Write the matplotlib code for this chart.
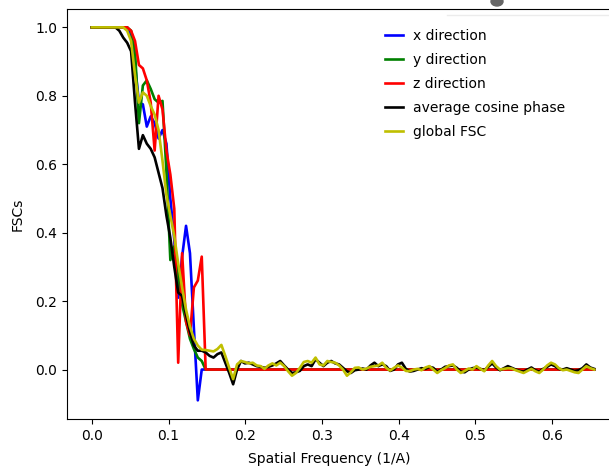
import numpy as np
import matplotlib
matplotlib.use("Agg")
import matplotlib.pyplot as plt
from matplotlib.patches import Ellipse
from matplotlib.lines import Line2D

# ---- data ----
black_head = [1.0] * 7 + [0.99, 0.97, 0.955, 0.93, 0.78, 0.645, 0.685, 0.66, 0.645, 0.62,
                          0.575, 0.53, 0.45, 0.385, 0.30, 0.225, 0.215, 0.16, 0.11, 0.07,
                          0.055, 0.055, 0.05, 0.04, 0.035, 0.045, 0.05, 0.02, -0.01, -0.043]
black_tail = [0.0, 0.025, 0.018, 0.02, 0.015, 0.01, 0.008, 0.005, 0.008, 0.012,
              0.018, 0.025, 0.012, 0.0, -0.01, -0.008, -0.004, 0.01, 0.015, 0.01,
              0.03, 0.02, 0.01, 0.02, 0.025, 0.018, 0.015, 0.005, -0.005, -0.01,
              -0.002, 0.0, 0.003, 0.0, 0.012, 0.02, 0.01, 0.015, 0.01, -0.004,
              0.0, 0.015, 0.02, 0.002, -0.006, -0.004, 0.0, 0.004, 0.002, 0.008,
              0.005, -0.006, 0.0, 0.008, 0.01, 0.012, 0.005, -0.006, -0.008, 0.0,
              0.004, 0.006, 0.002, -0.002, 0.008, 0.018, 0.006, -0.002, 0.004, 0.01,
              0.005, 0.0, -0.004, -0.006, 0.0, 0.006, -0.002, -0.006, 0.002, 0.008,
              0.015, 0.01, 0.002, 0.0, 0.004, 0.0, -0.004, -0.002, 0.004, 0.015,
              0.006, 0.002]
avg_cos_phase = black_head + black_tail

yellow_head = [1.0] * 9 + [0.99, 0.96, 0.86, 0.78, 0.81, 0.80, 0.77, 0.745, 0.70, 0.61,
                           0.51, 0.45, 0.39, 0.31, 0.24, 0.175, 0.125, 0.09, 0.07, 0.058,
                           0.057, 0.055, 0.053, 0.06, 0.072, 0.04, 0.005, -0.028]
yellow_tail = [0.015, 0.025, 0.022, 0.018, 0.02, 0.012, 0.01, 0.002, 0.012, 0.018,
               0.012, 0.02, 0.01, -0.005, -0.018, -0.01, 0.005, 0.022, 0.025, 0.02,
               0.035, 0.015, 0.012, 0.025, 0.022, 0.02, 0.012, 0.0, -0.018, -0.008,
               0.005, 0.006, 0.0, 0.003, 0.008, 0.01, 0.012, 0.02, 0.005, -0.003,
               0.005, 0.012, 0.006, -0.004, -0.005, 0.0, 0.002, -0.002, 0.006, 0.01,
               0.0, -0.01, -0.002, 0.004, 0.012, 0.015, 0.0, -0.01, -0.004, 0.003,
               0.0, 0.01, 0.002, -0.005, 0.012, 0.025, 0.01, 0.0, 0.002, 0.004,
               0.003, -0.002, -0.006, -0.01, -0.004, 0.002, -0.005, -0.01, 0.0, 0.012,
               0.02, 0.015, 0.004, -0.002, 0.0, -0.004, -0.008, -0.01, 0.0, 0.01,
               0.004, 0.0]
global_fsc = yellow_head + yellow_tail

x_head = [1.0] * 10 + [0.97, 0.89, 0.78, 0.775, 0.71, 0.74, 0.72, 0.675, 0.70, 0.66,
                       0.50, 0.38, 0.21, 0.33, 0.42, 0.34, 0.12, -0.09, 0.0]
y_head = [1.0] * 10 + [0.99, 0.93, 0.72, 0.83, 0.845, 0.82, 0.79, 0.78, 0.785, 0.58,
                       0.32, 0.36, 0.27, 0.19, 0.14, 0.09, 0.06, 0.035, 0.025]
z_head = [1.0] * 10 + [0.99, 0.96, 0.89, 0.88, 0.845, 0.78, 0.64, 0.80, 0.76, 0.64,
                       0.57, 0.47, 0.02, 0.34, 0.14, 0.10, 0.24, 0.26, 0.33]

n = len(avg_cos_phase)
assert len(global_fsc) == n
x_dir = x_head + [0.0] * (n - len(x_head))
y_dir = y_head + [0.0] * (n - len(y_head))
z_dir = z_head + [0.0] * (n - len(z_head))
freq = np.linspace(0.0, 0.655, n)

labels = ["x direction", "y direction", "z direction", "average cosine phase", "global FSC"]
colors = ["b", "g", "r", "k", "y"]

# ---- figure ----
fig = plt.figure(figsize=(6.09, 4.68), dpi=100)
ax = fig.add_axes([66.7 / 609, 49 / 468, (619.5 - 66.7) / 609, (419 - 8.7) / 468])

for vals, lab, col in zip([x_dir, y_dir, z_dir, avg_cos_phase, global_fsc], labels, colors):
    ax.plot(freq, vals, color=col, lw=1.9, label=lab)

ax.spines["right"].set_visible(False)
ax.set_xlim(-0.0328, 0.688)
ax.set_ylim(-0.1445, 1.0545)
ax.set_xticks([0.0, 0.1, 0.2, 0.3, 0.4, 0.5, 0.6])
ax.set_yticks([0.0, 0.2, 0.4, 0.6, 0.8, 1.0])
ax.set_xlabel("Spatial Frequency (1/A)", x=0.4745, labelpad=6.9)
ax.set_ylabel("FSCs", labelpad=7.6)

ax.legend(loc="upper left", bbox_to_anchor=((379.4 - 66.7) / 552.8, (419 - 23.0) / 410.3),
          borderaxespad=0, frameon=False, handlelength=1.3, handletextpad=0.7,
          labelspacing=0.72)

# small artefacts at the top of the reference
fig.patches.append(Ellipse((497 / 609, 1 - 1.5 / 468), 12 / 609, 9 / 468,
                           transform=fig.transFigure, color="#666666", zorder=5))
fig.lines.append(Line2D([447 / 609, 1.0], [1 - 15 / 468, 1 - 15 / 468],
                        transform=fig.transFigure, color="#ececec", lw=1))

fig.savefig("out.png", dpi=100)
